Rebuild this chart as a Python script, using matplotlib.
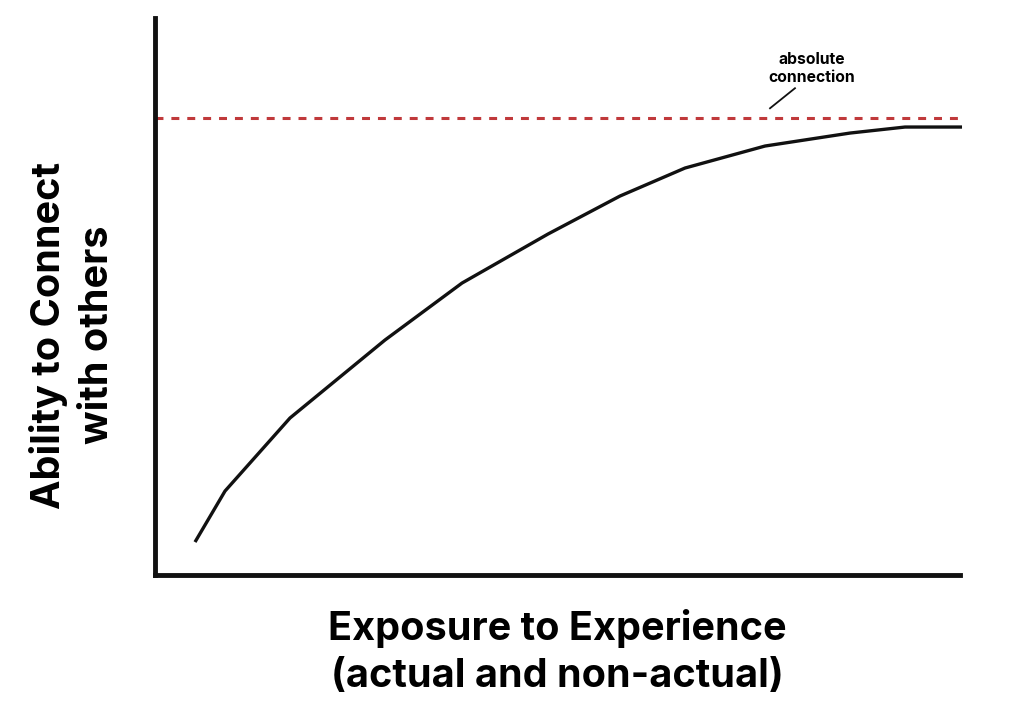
import numpy as np
import matplotlib.pyplot as plt

plt.rcParams['font.family'] = ['Inter', 'DejaVu Sans']

# curve (0-100 scale on both axes)
exposure = [4.97, 8.70, 16.77, 28.57, 38.14, 48.82, 57.76, 65.84, 75.78, 86.34, 93.17, 100.25]
ability = [5.92, 15.08, 28.19, 42.19, 52.42, 61.22, 68.04, 73.07, 77.02, 79.35, 80.43, 80.43]
absolute_level = 82.05

fig = plt.figure(figsize=(10.19, 7.10), dpi=100)
ax = fig.add_axes([0.1521, 0.1901, 0.7900, 0.7845])

ax.plot(exposure, ability, color='#111111', linewidth=2.4, clip_on=False,
        solid_capstyle='butt')
ax.plot([0, 100], [absolute_level, absolute_level], color='#c0393b',
        linewidth=2.2, linestyle=(0, (2.6, 2.6)))

# leader line + label
ax.plot([76.4, 79.5], [83.8, 87.4], color='#111111', linewidth=1.3)
ax.text(81.6, 91.0, "absolute\nconnection", ha='center', va='center',
        fontsize=11.3, fontweight='bold', linespacing=1.25)

ax.set_xlim(0, 100)
ax.set_ylim(0, 100)
ax.set_xticks([])
ax.set_yticks([])
for side in ['top', 'right']:
    ax.spines[side].set_visible(False)
for side in ['left', 'bottom']:
    ax.spines[side].set_linewidth(3.5)
    ax.spines[side].set_color('#111111')

fig.text(0.547, 0.082, "Exposure to Experience\n(actual and non-actual)",
         ha='center', va='center', fontsize=28.5, fontweight='bold', linespacing=1.33)
fig.text(0.071, 0.528, "Ability to Connect\nwith others", ha='center', va='center',
         rotation=90, fontsize=28.5, fontweight='bold', linespacing=1.36)

fig.savefig("out.png", dpi=100)
